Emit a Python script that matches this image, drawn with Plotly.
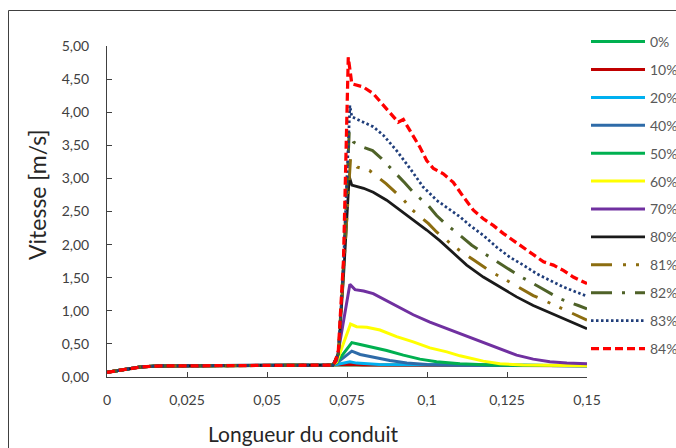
import plotly.graph_objects as go

# ---- data ----
labels = ["0%", "10%", "20%", "40%", "50%", "60%", "70%", "80%", "81%", "82%", "83%", "84%"]

x_rest = [0.0, 0.0025, 0.005, 0.0075, 0.0103, 0.0155, 0.026, 0.04, 0.055, 0.0676, 0.0706]
y_rest = [0.07, 0.09, 0.11, 0.135, 0.15, 0.166, 0.17, 0.175, 0.178, 0.18, 0.18]

x_0 = [0.0757, 0.10, 0.15]
y_0 = [0.18, 0.18, 0.175]
x_10 = [0.0718, 0.0757, 0.080, 0.15]
y_10 = [0.18, 0.19, 0.18, 0.17]
x_20 = [0.0718, 0.0759, 0.078, 0.085, 0.15]
y_20 = [0.19, 0.23, 0.21, 0.19, 0.17]
x_40 = [0.0718, 0.0765, 0.0791, 0.0832, 0.0884, 0.0937, 0.10, 0.11, 0.15]
y_40 = [0.21, 0.39, 0.34, 0.30, 0.25, 0.21, 0.19, 0.18, 0.17]
x_50 = [0.0718, 0.0765, 0.0791, 0.0822, 0.0874, 0.0926, 0.0978, 0.103, 0.1103, 0.12, 0.15]
y_50 = [0.22, 0.52, 0.49, 0.46, 0.40, 0.33, 0.27, 0.23, 0.20, 0.18, 0.17]
x_60 = [0.0718, 0.0761, 0.078, 0.0812, 0.0853, 0.0905, 0.0957, 0.1009, 0.1062, 0.1103, 0.1176, 0.1228, 0.13, 0.15]
y_60 = [0.23, 0.80, 0.76, 0.75, 0.71, 0.61, 0.53, 0.44, 0.38, 0.32, 0.24, 0.20, 0.18, 0.17]
x_70 = [0.0718, 0.0759, 0.0775, 0.0802, 0.0832, 0.0864, 0.0905, 0.0957, 0.1009, 0.1062, 0.1124, 0.1176,
        0.1228, 0.128, 0.1332, 0.1384, 0.1437, 0.15]
y_70 = [0.25, 1.40, 1.32, 1.30, 1.26, 1.18, 1.07, 0.94, 0.83, 0.73, 0.62, 0.52, 0.42, 0.33, 0.27, 0.23, 0.21, 0.20]
x_80 = [0.0723, 0.0739, 0.0757, 0.0765, 0.0802, 0.0832, 0.0874, 0.0916, 0.0957, 0.0999, 0.104, 0.1082,
        0.1124, 0.1176, 0.1228, 0.128, 0.1332, 0.1384, 0.1437, 0.15]
y_80 = [0.35, 1.5, 3.03, 2.90, 2.85, 2.79, 2.67, 2.52, 2.37, 2.22, 2.06, 1.87, 1.69, 1.51, 1.36, 1.21, 1.08,
        0.97, 0.86, 0.73]
x_81 = [0.0723, 0.0739, 0.0761, 0.0782, 0.082, 0.0872, 0.09, 0.0928, 0.0955, 0.1004, 0.103, 0.1059, 0.1088,
        0.1145, 0.1176, 0.1207, 0.1238, 0.1301, 0.1332, 0.1369, 0.14, 0.1466, 0.15]
y_81 = [0.35, 1.6, 3.30, 3.17, 3.12, 2.92, 2.79, 2.67, 2.52, 2.32, 2.19, 2.07, 1.96, 1.77, 1.67, 1.57, 1.49,
        1.31, 1.23, 1.15, 1.08, 0.93, 0.86]
x_82 = [0.0723, 0.0739, 0.0757, 0.077, 0.0796, 0.083, 0.0858, 0.0905, 0.0931, 0.0957, 0.1004, 0.103, 0.1056,
        0.1103, 0.114, 0.1171, 0.1228, 0.1259, 0.1291, 0.1351, 0.1384, 0.1416, 0.1473, 0.15]
y_82 = [0.35, 1.7, 3.70, 3.55, 3.48, 3.42, 3.30, 3.07, 2.93, 2.79, 2.59, 2.44, 2.32, 2.14, 1.99, 1.89, 1.71,
        1.61, 1.52, 1.36, 1.27, 1.18, 1.08, 1.03]
x_83 = [0.0723, 0.0739, 0.0759, 0.0765, 0.0801, 0.0832, 0.0864, 0.0905, 0.0947, 0.0988, 0.103, 0.1072, 0.1103,
        0.1134, 0.1176, 0.1218, 0.1259, 0.1301, 0.1343, 0.1384, 0.1426, 0.1468, 0.15]
y_83 = [0.35, 1.7, 4.10, 3.93, 3.85, 3.78, 3.65, 3.42, 3.15, 2.87, 2.67, 2.53, 2.42, 2.29, 2.14, 1.96, 1.81,
        1.69, 1.56, 1.46, 1.36, 1.28, 1.22]
x_84 = [0.0713, 0.0723, 0.0739, 0.0754, 0.0765, 0.0801, 0.0832, 0.0864, 0.089, 0.091, 0.0926, 0.0952, 0.0978,
        0.0999, 0.102, 0.1051, 0.1082, 0.1114, 0.1145, 0.1176, 0.1207, 0.1238, 0.127, 0.1301, 0.1332, 0.1364,
        0.1395, 0.1426, 0.1457, 0.15]
y_84 = [0.23, 0.40, 1.76, 4.83, 4.43, 4.38, 4.28, 4.10, 3.95, 3.85, 3.89, 3.68, 3.47, 3.27, 3.15, 3.07, 2.94,
        2.72, 2.52, 2.39, 2.29, 2.17, 2.06, 1.96, 1.86, 1.74, 1.69, 1.61, 1.51, 1.41]

series_x = [x_0, x_10, x_20, x_40, x_50, x_60, x_70, x_80, x_81, x_82, x_83, x_84]
series_y = [y_0, y_10, y_20, y_40, y_50, y_60, y_70, y_80, y_81, y_82, y_83, y_84]

x_tickvals = [0, 0.025, 0.05, 0.075, 0.1, 0.125, 0.15]
x_ticktext = ["0", "0,025", "0,05", "0,075", "0,1", "0,125", "0,15"]
y_tickvals = [0, 0.5, 1, 1.5, 2, 2.5, 3, 3.5, 4, 4.5, 5]
y_ticktext = ["0,00", "0,50", "1,00", "1,50", "2,00", "2,50", "3,00", "3,50", "4,00", "4,50", "5,00"]

# ---- styles ----
colors = ["#00B050", "#C00000", "#00B0F0", "#2E6BA8", "#00B050", "#FFFF00", "#7030A0", "#1A1A1A",
          "#8C6D10", "#4F6228", "#1F3D7A", "#FF0000"]
dashes = ["solid", "solid", "solid", "solid", "solid", "solid", "solid", "solid",
          "21px,11px,3px,10px,3px,11px", "21px,10px,3px,10px", "2.5px,2.5px", "8px,4px"]
widths = [3, 3, 3, 3, 3, 3, 3, 2.75, 3, 3, 2.75, 3.25]

FONT = "Lato, 'Open Sans', sans-serif"

fig = go.Figure()
for i, lab in enumerate(labels):
    fig.add_trace(go.Scatter(
        x=x_rest + series_x[i], y=y_rest + series_y[i], mode="lines", name=lab,
        legendgroup=lab,
        line=dict(color=colors[i], width=widths[i], dash=dashes[i]),
    ))

W, H = 676, 448
L, R, T, B = 107, 89, 20, 40
pw, ph = W - L - R, H - T - B
AX_TOP, AX_BOT = 46, 377   # pixel rows of the y axis ends


def px2paper_x(px):
    return (px - L) / pw


def py2paper_y(py):
    return (H - B - py) / ph


fig.update_layout(
    width=W, height=H,
    margin=dict(l=L, r=R, t=T, b=B, autoexpand=False),
    paper_bgcolor="white", plot_bgcolor="white",
    font=dict(family=FONT, color="#404040", size=14),
    showlegend=True,
    legend=dict(
        x=px2paper_x(586), y=py2paper_y(26), xanchor="left", yanchor="top",
        font=dict(size=14, color="#595959"), tracegroupgap=6.7, itemwidth=54,
        bgcolor="rgba(0,0,0,0)", borderwidth=0,
    ),
    xaxis=dict(
        range=[0, 0.15], tickvals=x_tickvals, ticktext=x_ticktext,
        showgrid=False, zeroline=False, showline=True, linecolor="#404040", linewidth=1,
        ticks="inside", ticklen=5, tickcolor="#404040", ticklabelstandoff=10,
        tickfont=dict(size=14, color="#404040"),
    ),
    yaxis=dict(
        range=[0, 5], tickvals=y_tickvals, ticktext=y_ticktext,
        domain=[py2paper_y(AX_BOT), py2paper_y(AX_TOP)],
        showgrid=False, zeroline=False, showline=True, linecolor="#404040", linewidth=1,
        ticks="inside", ticklen=5, tickcolor="#404040", ticklabelstandoff=14,
        tickfont=dict(size=14, color="#404040"),
    ),
    shapes=[dict(type="rect", xref="paper", yref="paper",
                 x0=px2paper_x(8.5), x1=px2paper_x(690), y0=py2paper_y(460), y1=py2paper_y(10.5),
                 line=dict(color="#404040", width=1), fillcolor="rgba(0,0,0,0)", layer="below")],
    annotations=[
        dict(text="Longueur du conduit", xref="paper", yref="paper",
             x=px2paper_x(303), y=py2paper_y(433), xanchor="center", yanchor="middle",
             showarrow=False, font=dict(size=21, color="#262626")),
        dict(text="Vitesse [m/s]", xref="paper", yref="paper", textangle=-90,
             x=px2paper_x(37), y=py2paper_y(195), xanchor="center", yanchor="middle",
             showarrow=False, font=dict(size=23, color="#262626")),
    ],
)

fig.write_html("out.html", config={"displayModeBar": False},
               post_script="document.body.style.margin='0';document.body.style.overflow='hidden';")
